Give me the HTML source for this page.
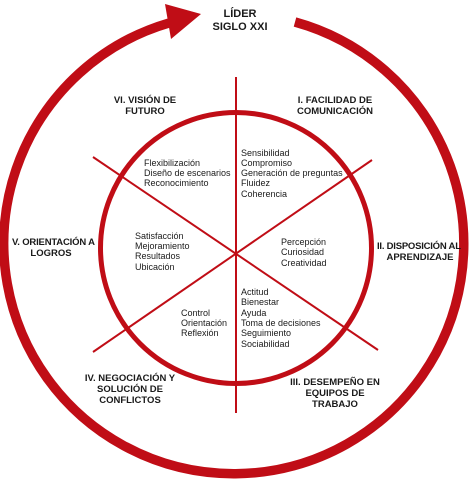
<!DOCTYPE html>
<html><head><meta charset="utf-8"><style>
html,body{margin:0;padding:0;background:#fff}
svg{display:block}
text{font-family:"Liberation Sans",Arial,sans-serif;fill:#1a1a1a}
.b{font-weight:bold;font-size:9.5px}
.r{font-size:9px}
</style></head><body>
<svg width="475" height="481" viewBox="0 0 475 481" xmlns="http://www.w3.org/2000/svg">
<g stroke="#c00d16" fill="none">
<path d="M295,22 A230,230 0 1 1 169,23" stroke-width="9.5"/>
<circle cx="236" cy="248" r="135.5" stroke-width="5"/>
<line x1="236" y1="77" x2="236" y2="413" stroke-width="2"/>
<line x1="93" y1="157" x2="378" y2="350" stroke-width="2"/>
<line x1="372" y1="160" x2="93" y2="352" stroke-width="2"/>
</g>
<polygon points="165,4 201,14 171,39" fill="#c00d16"/>
<g text-anchor="middle">
<text class="b" x="240" y="17" style="font-size:11px">LÍDER</text>
<text class="b" x="240" y="30" style="font-size:11px">SIGLO XXI</text>
<text class="b" x="145" y="103">VI. VISIÓN DE</text>
<text class="b" x="145" y="114">FUTURO</text>
<text class="b" x="335" y="103">I. FACILIDAD DE</text>
<text class="b" x="335" y="114">COMUNICACIÓN</text>
<text class="b" x="51" y="256">LOGROS</text>
<text class="b" x="420" y="260">APRENDIZAJE</text>
<text class="b" x="130" y="381">IV. NEGOCIACIÓN Y</text>
<text class="b" x="130" y="392">SOLUCIÓN DE</text>
<text class="b" x="130" y="403">CONFLICTOS</text>
<text class="b" x="335" y="385">III. DESEMPEÑO EN</text>
<text class="b" x="335" y="396">EQUIPOS DE</text>
<text class="b" x="335" y="407">TRABAJO</text>
</g>
<text class="b" x="12" y="245" textLength="83">V. ORIENTACIÓN A</text>
<text class="b" x="377" y="249" textLength="84">II. DISPOSICIÓN AL</text>
<g class="r">
<text class="r" x="241" y="156">Sensibilidad</text>
<text class="r" x="241" y="166">Compromiso</text>
<text class="r" x="241" y="176">Generación de preguntas</text>
<text class="r" x="241" y="186">Fluidez</text>
<text class="r" x="241" y="197">Coherencia</text>
<text class="r" x="144" y="166">Flexibilización</text>
<text class="r" x="144" y="176">Diseño de escenarios</text>
<text class="r" x="144" y="186">Reconocimiento</text>
<text class="r" x="135" y="239">Satisfacción</text>
<text class="r" x="135" y="249">Mejoramiento</text>
<text class="r" x="135" y="259">Resultados</text>
<text class="r" x="135" y="270">Ubicación</text>
<text class="r" x="281" y="245">Percepción</text>
<text class="r" x="281" y="255">Curiosidad</text>
<text class="r" x="281" y="266">Creatividad</text>
<text class="r" x="241" y="295">Actitud</text>
<text class="r" x="241" y="305">Bienestar</text>
<text class="r" x="241" y="316">Ayuda</text>
<text class="r" x="241" y="326">Toma de decisiones</text>
<text class="r" x="241" y="336">Seguimiento</text>
<text class="r" x="241" y="347">Sociabilidad</text>
<text class="r" x="181" y="316">Control</text>
<text class="r" x="181" y="326">Orientación</text>
<text class="r" x="181" y="336">Reflexión</text>
</g>
</svg>
</body></html>
